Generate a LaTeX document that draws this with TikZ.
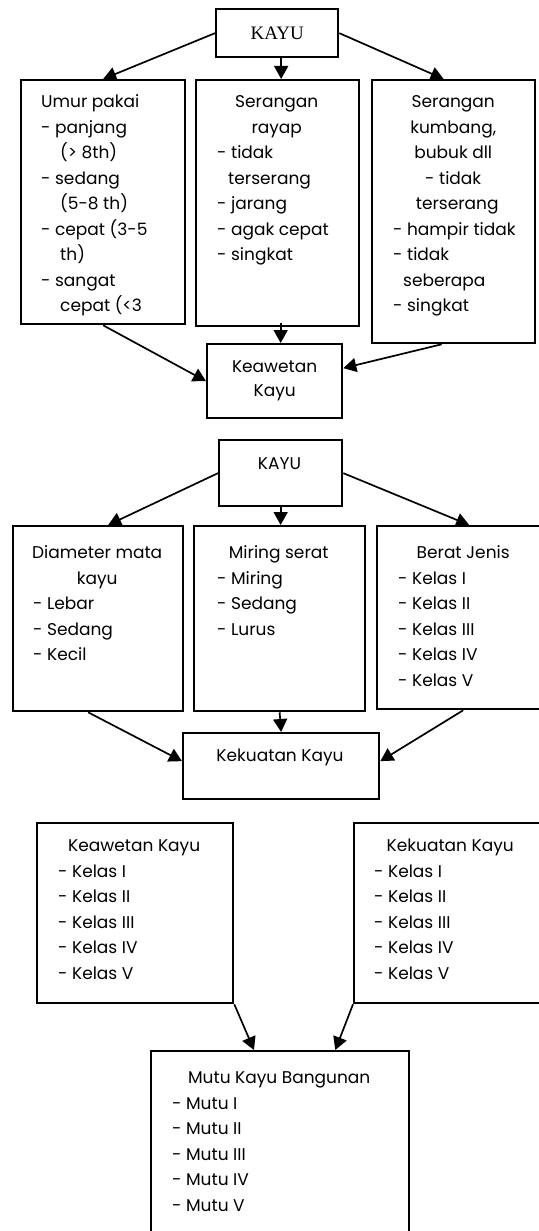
\documentclass[tikz,border=0pt]{standalone}
\usepackage{fontspec}
\setmainfont{Poppins}
\newfontfamily\serifkayu{Liberation Serif}
\usetikzlibrary{arrows.meta,calc}
\newcommand\cl[1]{\makebox[\linewidth][c]{#1}}
\newcommand\ind[1]{\hspace*{#1pt}}
\begin{document}
\begin{tikzpicture}[x=1pt,y=-1pt,
 box/.style={draw, line width=2.3pt, inner sep=0pt, anchor=north west},
 arr/.style={line width=1.7pt, -{Triangle[length=13pt,width=14pt]}},
 txt/.style={inner sep=0pt, anchor=base west, font=\fontsize{17}{25.5}\selectfont},
 ctxt/.style={inner sep=0pt, anchor=base, font=\fontsize{17}{25.5}\selectfont},
]
\useasboundingbox (0,0) rectangle (538,1231);
\fill[white] (0,0) rectangle (538,1231);

% ---------- part 1 ----------
\node[box, minimum width=122pt, minimum height=48pt, font=\serifkayu\fontsize{19}{22}\selectfont] (k1) at (215,8) {KAYU};
\node[box, minimum width=164pt, minimum height=244pt] (b1) at (20,79) {};
\node[box, minimum width=163pt, minimum height=246pt] (b2) at (195,79) {};
\node[box, minimum width=163pt, minimum height=263pt] (b3) at (371,79) {};
\node[box, minimum width=135pt, minimum height=74pt, align=center, font=\fontsize{17}{24}\selectfont] (kw) at (206,343) {Keawetan\\Kayu};

\node[txt] (t1) at (41,107.5) {\parbox[t]{150pt}{\raggedright
Umur pakai\\
- panjang\\
\ind{19}(> 8th)\\
- sedang\\
\ind{19}(5-8 th)\\
- cepat (3-5\\
\ind{19}th)\\
- sangat\\
\ind{19}cepat (<3}};

\node[txt] (t2) at (195,107.5) {\parbox[t]{163pt}{\raggedright
\cl{Serangan}\\
\cl{rayap}\\
\ind{22}- tidak\\
\ind{33}terserang\\
\ind{22}- jarang\\
\ind{22}- agak cepat\\
\ind{22}- singkat}};

\node[txt] (t3) at (371,107.5) {\parbox[t]{164pt}{\raggedright
\cl{Serangan}\\
\cl{kumbang,}\\
\cl{bubuk dll}\\
\cl{- tidak}\\
\cl{\ind{8}terserang}\\
\ind{22}- hampir tidak\\
\ind{22}- tidak\\
\ind{32}seberapa\\
\ind{22}- singkat}};

\draw[arr] (k1.west) -- (b1.north);
\draw[arr] ([xshift=4pt]k1.south) -- ([xshift=4pt]k1.south |- b2.north);
\draw[arr] (k1.east) -- ([xshift=-10pt]b3.north);
\draw[arr] (b1.south) -- (kw.west);
\draw[arr] ([xshift=3pt,yshift=4pt]b2.south) -- ([xshift=3pt]b2.south |- kw.north);
\draw[arr] ([xshift=-12pt]b3.south) -- ([yshift=13pt]kw.east);

% ---------- part 2 ----------
\node[box, minimum width=123pt, minimum height=66pt] (k2) at (218,439) {};
\node[ctxt] (k2t) at (279.5,469.5) {KAYU};
\node[box, minimum width=170pt, minimum height=185pt] (b4) at (12,525) {};
\node[box, minimum width=171pt, minimum height=185pt] (b5) at (193,525) {};
\node[box, minimum width=170pt, minimum height=183pt] (b6) at (376,525) {};
\node[box, minimum width=196pt, minimum height=66pt] (kk) at (182,732) {};
\node[ctxt] (kkt) at (280,761.5) {Kekuatan Kayu};

\node[txt] (t4) at (12,558.5) {\parbox[t]{170pt}{\raggedright
\cl{Diameter mata}\\
\cl{kayu}\\
\ind{21}- Lebar\\
\ind{21}- Sedang\\
\ind{21}- Kecil}};

\node[txt] (t5) at (193,558.5) {\parbox[t]{171pt}{\raggedright
\cl{Miring serat}\\
\ind{24}- Miring\\
\ind{24}- Sedang\\
\ind{24}- Lurus}};

\node[txt] (t6) at (376,558.5) {\parbox[t]{174pt}{\raggedright
\cl{Berat Jenis}\\
\ind{22}- Kelas I\\
\ind{22}- Kelas II\\
\ind{22}- Kelas III\\
\ind{22}- Kelas IV\\
\ind{22}- Kelas V}};

\draw[arr] (k2.west) -- ([xshift=10pt]b4.north);
\draw[arr] (k2.south) -- (k2.south |- b5.north);
\draw[arr] (k2.east) -- ([xshift=7pt]b6.north);
\draw[arr] ([xshift=-10pt]b4.south) -- ([yshift=5pt]kk.west);
\draw[arr] (b5.south) -- (kk.north);
\draw[arr] ([xshift=1pt]b6.south) -- ([yshift=5pt]kk.east);

% ---------- part 3 ----------
\node[box, minimum width=196pt, minimum height=180pt] (kw2) at (36,822) {};
\node[box, minimum width=190pt, minimum height=180pt] (kk2) at (353,822) {};
\node[box, minimum width=258pt, minimum height=200pt] (mutu) at (150,1050) {};

\node[txt] (t7) at (36,851.5) {\parbox[t]{196pt}{\raggedright
\cl{Keawetan Kayu}\\
\ind{22}- Kelas I\\
\ind{22}- Kelas II\\
\ind{22}- Kelas III\\
\ind{22}- Kelas IV\\
\ind{22}- Kelas V}};

\node[txt] (t8) at (353,851.5) {\parbox[t]{194pt}{\raggedright
\cl{Kekuatan Kayu}\\
\ind{21}- Kelas I\\
\ind{21}- Kelas II\\
\ind{21}- Kelas III\\
\ind{21}- Kelas IV\\
\ind{21}- Kelas V}};

\node[txt] (t9) at (150,1083.5) {\parbox[t]{258pt}{\raggedright
\cl{Mutu Kayu Bangunan}\\
\ind{22}- Mutu I\\
\ind{22}- Mutu II\\
\ind{22}- Mutu III\\
\ind{22}- Mutu IV\\
\ind{22}- Mutu V}};

\draw[arr] (kw2.south east) -- ([xshift=104pt]mutu.north west);
\draw[arr] (kk2.south west) -- ([xshift=-75pt]mutu.north east);
\end{tikzpicture}
\end{document}
